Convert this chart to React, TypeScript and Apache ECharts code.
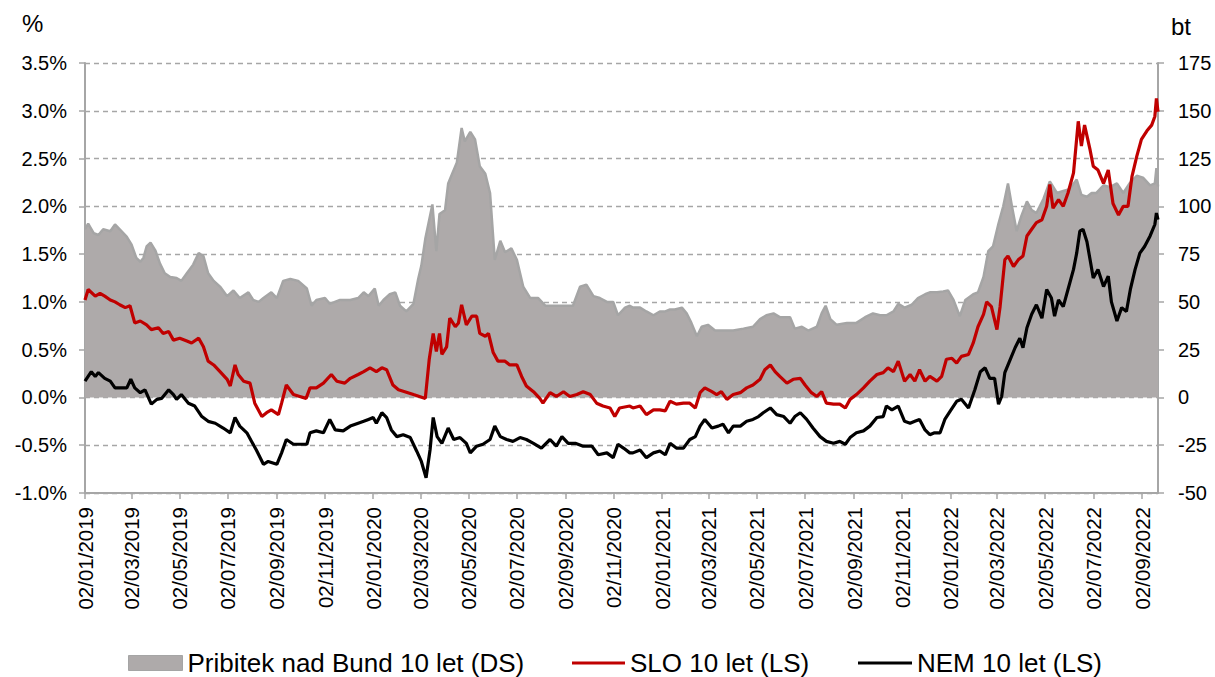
import { useEffect, useRef } from 'react';
import * as echarts from 'echarts';

const START_DATE = '2019-01-02';
const END_DATE = '2022-09-22';

const TICK_LABELS = [
  '02/01/2019', '02/03/2019', '02/05/2019', '02/07/2019', '02/09/2019', '02/11/2019',
  '02/01/2020', '02/03/2020', '02/05/2020', '02/07/2020', '02/09/2020', '02/11/2020',
  '02/01/2021', '02/03/2021', '02/05/2021', '02/07/2021', '02/09/2021', '02/11/2021',
  '02/01/2022', '02/03/2022', '02/05/2022', '02/07/2022', '02/09/2022',
];

const LEFT_TICKS = { min: -1, max: 3.5, interval: 0.5 };
const RIGHT_TICKS = { min: -50, max: 175, interval: 25 };

const NAME_SPREAD = 'Pribitek nad Bund 10 let (DS)';
const NAME_SLO = 'SLO 10 let (LS)';
const NAME_NEM = 'NEM 10 let (LS)';

// spread over Bund, basis points (right axis)
const SPREAD_BP: [string, number][] = [
  ['2019-01-02', 88], ['2019-01-06', 91], ['2019-01-13', 86], ['2019-01-19', 85], ['2019-01-25', 88],
  ['2019-02-03', 87], ['2019-02-09', 90.5], ['2019-02-15', 88], ['2019-02-24', 84], ['2019-03-02', 80],
  ['2019-03-08', 73], ['2019-03-13', 71], ['2019-03-17', 73], ['2019-03-21', 79], ['2019-03-26', 81],
  ['2019-04-01', 77], ['2019-04-07', 70], ['2019-04-13', 65], ['2019-04-20', 63], ['2019-04-28', 62.5],
  ['2019-05-04', 61], ['2019-05-11', 65], ['2019-05-19', 69.5], ['2019-05-26', 75.6], ['2019-06-01', 74],
  ['2019-06-07', 65], ['2019-06-14', 61], ['2019-06-22', 58], ['2019-07-01', 53], ['2019-07-09', 56],
  ['2019-07-17', 52], ['2019-07-28', 55], ['2019-08-03', 51], ['2019-08-10', 50], ['2019-08-16', 52],
  ['2019-08-26', 55], ['2019-09-02', 52], ['2019-09-10', 61], ['2019-09-19', 62], ['2019-09-29', 61],
  ['2019-10-10', 57], ['2019-10-16', 48], ['2019-10-22', 51], ['2019-11-02', 52], ['2019-11-08', 49],
  ['2019-11-21', 51], ['2019-12-04', 51], ['2019-12-14', 52], ['2019-12-21', 55], ['2019-12-27', 53],
  ['2020-01-04', 57], ['2020-01-09', 48], ['2020-01-15', 51], ['2020-01-23', 54], ['2020-01-30', 55],
  ['2020-02-05', 48], ['2020-02-13', 45], ['2020-02-22', 49], ['2020-02-28', 62], ['2020-03-03', 69],
  ['2020-03-08', 83], ['2020-03-12', 91], ['2020-03-17', 101], ['2020-03-22', 76.5], ['2020-03-26', 96],
  ['2020-04-02', 98], ['2020-04-06', 112], ['2020-04-10', 116], ['2020-04-17', 123], ['2020-04-23', 141],
  ['2020-04-27', 134], ['2020-05-04', 139], ['2020-05-10', 135], ['2020-05-16', 121], ['2020-05-23', 117],
  ['2020-05-29', 107], ['2020-06-04', 72], ['2020-06-11', 82], ['2020-06-17', 76], ['2020-06-25', 78],
  ['2020-07-02', 72], ['2020-07-10', 58], ['2020-07-19', 52], ['2020-07-29', 52], ['2020-08-07', 48],
  ['2020-08-17', 48], ['2020-08-30', 48], ['2020-09-11', 48], ['2020-09-20', 58], ['2020-09-28', 59],
  ['2020-10-07', 53], ['2020-10-15', 52], ['2020-10-24', 50], ['2020-11-01', 50], ['2020-11-07', 43],
  ['2020-11-16', 47], ['2020-11-22', 48], ['2020-11-26', 47], ['2020-12-05', 47], ['2020-12-13', 45],
  ['2020-12-22', 43], ['2020-12-30', 45], ['2021-01-06', 45], ['2021-01-12', 46], ['2021-01-18', 46],
  ['2021-01-27', 47], ['2021-02-02', 44], ['2021-02-08', 39], ['2021-02-15', 32], ['2021-02-21', 37],
  ['2021-03-01', 38], ['2021-03-10', 35], ['2021-03-20', 35], ['2021-04-02', 35], ['2021-04-15', 36],
  ['2021-04-27', 37], ['2021-05-06', 41], ['2021-05-14', 43], ['2021-05-23', 44], ['2021-05-31', 42],
  ['2021-06-13', 42], ['2021-06-19', 36], ['2021-06-28', 37], ['2021-07-06', 35], ['2021-07-17', 37],
  ['2021-07-23', 44], ['2021-07-28', 48], ['2021-08-03', 41], ['2021-08-11', 38], ['2021-08-24', 39],
  ['2021-09-05', 39], ['2021-09-16', 42], ['2021-09-26', 44], ['2021-10-05', 43], ['2021-10-13', 43],
  ['2021-10-22', 45], ['2021-10-28', 49], ['2021-11-05', 47], ['2021-11-14', 48.5], ['2021-11-22', 52],
  ['2021-12-01', 54], ['2021-12-07', 55], ['2021-12-16', 55], ['2021-12-24', 55.5], ['2021-12-30', 56],
  ['2022-01-06', 51], ['2022-01-14', 42.5], ['2022-01-21', 51], ['2022-01-31', 54], ['2022-02-06', 55],
  ['2022-02-13', 63], ['2022-02-19', 76.5], ['2022-02-25', 79], ['2022-03-04', 91], ['2022-03-10', 100],
  ['2022-03-16', 112], ['2022-03-21', 100], ['2022-03-27', 87], ['2022-04-02', 95], ['2022-04-09', 102.6],
  ['2022-04-15', 98], ['2022-04-21', 96.5], ['2022-04-30', 104], ['2022-05-08', 113], ['2022-05-17', 107],
  ['2022-05-25', 108], ['2022-06-02', 109], ['2022-06-11', 114], ['2022-06-17', 106], ['2022-06-24', 105],
  ['2022-06-30', 107], ['2022-07-06', 107], ['2022-07-15', 111], ['2022-07-23', 110], ['2022-08-01', 112],
  ['2022-08-09', 107], ['2022-08-17', 112], ['2022-08-26', 116], ['2022-09-03', 115], ['2022-09-12', 111],
  ['2022-09-18', 112], ['2022-09-20', 120], ['2022-09-22', 110.5],
];

// Slovenia 10y yield, % (left axis)
const SLO_10Y: [string, number][] = [
  ['2019-01-02', 1.02], ['2019-01-06', 1.13], ['2019-01-15', 1.06], ['2019-01-21', 1.09], ['2019-01-27', 1.06],
  ['2019-02-03', 1.02], ['2019-02-09', 1.0], ['2019-02-15', 0.97], ['2019-02-22', 0.94], ['2019-02-28', 0.96],
  ['2019-03-06', 0.78], ['2019-03-13', 0.8], ['2019-03-21', 0.76], ['2019-03-27', 0.71], ['2019-04-05', 0.73],
  ['2019-04-11', 0.67], ['2019-04-18', 0.69], ['2019-04-24', 0.6], ['2019-05-02', 0.62], ['2019-05-11', 0.59],
  ['2019-05-17', 0.57], ['2019-05-26', 0.62], ['2019-06-01', 0.53], ['2019-06-07', 0.38], ['2019-06-14', 0.34],
  ['2019-06-22', 0.27], ['2019-07-01', 0.19], ['2019-07-05', 0.12], ['2019-07-11', 0.34], ['2019-07-15', 0.24],
  ['2019-07-22', 0.17], ['2019-07-30', 0.15], ['2019-08-05', -0.06], ['2019-08-14', -0.2], ['2019-08-20', -0.16],
  ['2019-08-26', -0.13], ['2019-09-04', -0.18], ['2019-09-08', -0.06], ['2019-09-14', 0.13], ['2019-09-23', 0.03],
  ['2019-10-01', 0.01], ['2019-10-09', -0.01], ['2019-10-14', 0.1], ['2019-10-22', 0.1], ['2019-10-31', 0.15],
  ['2019-11-10', 0.24], ['2019-11-17', 0.17], ['2019-11-27', 0.15], ['2019-12-04', 0.2], ['2019-12-14', 0.24],
  ['2019-12-21', 0.27], ['2019-12-29', 0.31], ['2020-01-06', 0.27], ['2020-01-13', 0.31], ['2020-01-19', 0.29],
  ['2020-01-27', 0.13], ['2020-02-03', 0.08], ['2020-02-11', 0.06], ['2020-02-22', 0.03], ['2020-03-08', -0.01],
  ['2020-03-13', 0.4], ['2020-03-18', 0.67], ['2020-03-22', 0.48], ['2020-03-26', 0.67], ['2020-03-29', 0.45],
  ['2020-04-04', 0.53], ['2020-04-08', 0.83], ['2020-04-15', 0.74], ['2020-04-19', 0.78], ['2020-04-23', 0.97],
  ['2020-04-29', 0.76], ['2020-05-06', 0.85], ['2020-05-12', 0.85], ['2020-05-16', 0.67], ['2020-05-23', 0.64],
  ['2020-05-27', 0.67], ['2020-06-02', 0.47], ['2020-06-08', 0.38], ['2020-06-17', 0.38], ['2020-06-23', 0.34],
  ['2020-07-02', 0.34], ['2020-07-08', 0.22], ['2020-07-14', 0.12], ['2020-07-23', 0.06], ['2020-07-31', -0.01],
  ['2020-08-04', -0.06], ['2020-08-13', 0.05], ['2020-08-21', 0.01], ['2020-08-30', 0.06], ['2020-09-07', 0.01],
  ['2020-09-16', 0.03], ['2020-09-24', 0.06], ['2020-10-03', 0.03], ['2020-10-11', -0.06], ['2020-10-19', -0.09],
  ['2020-10-28', -0.11], ['2020-11-03', -0.2], ['2020-11-09', -0.11], ['2020-11-22', -0.09], ['2020-11-26', -0.11],
  ['2020-12-05', -0.09], ['2020-12-13', -0.18], ['2020-12-22', -0.13], ['2020-12-30', -0.13], ['2021-01-06', -0.14],
  ['2021-01-12', -0.04], ['2021-01-20', -0.07], ['2021-01-29', -0.06], ['2021-02-06', -0.06], ['2021-02-13', -0.11],
  ['2021-02-19', 0.05], ['2021-02-25', 0.1], ['2021-03-06', 0.06], ['2021-03-12', 0.03], ['2021-03-18', 0.06],
  ['2021-03-25', -0.02], ['2021-04-02', 0.03], ['2021-04-11', 0.05], ['2021-04-19', 0.1], ['2021-04-27', 0.13],
  ['2021-05-06', 0.19], ['2021-05-12', 0.29], ['2021-05-19', 0.34], ['2021-05-25', 0.27], ['2021-05-31', 0.22],
  ['2021-06-09', 0.15], ['2021-06-17', 0.19], ['2021-06-26', 0.2], ['2021-07-02', 0.13], ['2021-07-10', 0.05],
  ['2021-07-17', 0.01], ['2021-07-23', 0.06], ['2021-07-29', -0.06], ['2021-08-07', -0.07], ['2021-08-15', -0.07],
  ['2021-08-22', -0.11], ['2021-08-28', -0.02], ['2021-09-05', 0.03], ['2021-09-14', 0.1], ['2021-09-22', 0.17],
  ['2021-10-01', 0.24], ['2021-10-09', 0.26], ['2021-10-15', 0.31], ['2021-10-22', 0.27], ['2021-10-28', 0.38],
  ['2021-11-05', 0.17], ['2021-11-12', 0.24], ['2021-11-18', 0.17], ['2021-11-24', 0.29], ['2021-12-01', 0.17],
  ['2021-12-07', 0.22], ['2021-12-16', 0.17], ['2021-12-22', 0.22], ['2021-12-28', 0.4], ['2022-01-04', 0.41],
  ['2022-01-10', 0.36], ['2022-01-16', 0.43], ['2022-01-25', 0.45], ['2022-01-31', 0.57], ['2022-02-06', 0.74],
  ['2022-02-13', 0.87], ['2022-02-17', 1.0], ['2022-02-23', 0.95], ['2022-03-02', 0.71], ['2022-03-06', 0.95],
  ['2022-03-12', 1.44], ['2022-03-16', 1.48], ['2022-03-23', 1.37], ['2022-03-29', 1.44], ['2022-04-04', 1.48],
  ['2022-04-09', 1.69], ['2022-04-15', 1.76], ['2022-04-21', 1.83], ['2022-04-28', 1.86], ['2022-05-04', 2.0],
  ['2022-05-08', 2.23], ['2022-05-12', 1.98], ['2022-05-19', 2.07], ['2022-05-25', 2.0], ['2022-05-31', 2.14],
  ['2022-06-07', 2.35], ['2022-06-13', 2.89], ['2022-06-17', 2.63], ['2022-06-21', 2.85], ['2022-06-28', 2.59],
  ['2022-07-02', 2.42], ['2022-07-08', 2.38], ['2022-07-15', 2.24], ['2022-07-21', 2.38], ['2022-07-27', 2.03],
  ['2022-08-03', 1.91], ['2022-08-09', 2.0], ['2022-08-15', 2.0], ['2022-08-20', 2.31], ['2022-08-26', 2.52],
  ['2022-09-01', 2.7], ['2022-09-08', 2.79], ['2022-09-14', 2.85], ['2022-09-18', 2.94], ['2022-09-20', 3.13],
  ['2022-09-22', 2.99],
];

// Germany 10y yield, % (left axis)
const NEM_10Y: [string, number][] = [
  ['2019-01-02', 0.17], ['2019-01-10', 0.27], ['2019-01-15', 0.22], ['2019-01-19', 0.26], ['2019-01-27', 0.2],
  ['2019-02-03', 0.17], ['2019-02-09', 0.1], ['2019-02-15', 0.1], ['2019-02-24', 0.1], ['2019-03-01', 0.19],
  ['2019-03-06', 0.1], ['2019-03-13', 0.05], ['2019-03-19', 0.08], ['2019-03-27', -0.07], ['2019-04-03', -0.02],
  ['2019-04-09', -0.01], ['2019-04-18', 0.08], ['2019-04-24', 0.03], ['2019-04-28', -0.02], ['2019-05-04', 0.03],
  ['2019-05-13', -0.06], ['2019-05-21', -0.09], ['2019-05-30', -0.2], ['2019-06-07', -0.25], ['2019-06-16', -0.27],
  ['2019-06-26', -0.32], ['2019-07-05', -0.37], ['2019-07-11', -0.21], ['2019-07-17', -0.3], ['2019-07-26', -0.37],
  ['2019-08-01', -0.46], ['2019-08-07', -0.55], ['2019-08-16', -0.7], ['2019-08-22', -0.67], ['2019-09-02', -0.7],
  ['2019-09-08', -0.58], ['2019-09-14', -0.44], ['2019-09-23', -0.49], ['2019-10-01', -0.49], ['2019-10-10', -0.49],
  ['2019-10-14', -0.37], ['2019-10-22', -0.35], ['2019-10-31', -0.37], ['2019-11-08', -0.23], ['2019-11-15', -0.34],
  ['2019-11-25', -0.35], ['2019-12-04', -0.3], ['2019-12-14', -0.27], ['2019-12-21', -0.25], ['2019-12-27', -0.23],
  ['2020-01-02', -0.21], ['2020-01-06', -0.27], ['2020-01-13', -0.16], ['2020-01-19', -0.21], ['2020-01-25', -0.34],
  ['2020-02-01', -0.41], ['2020-02-09', -0.39], ['2020-02-18', -0.42], ['2020-02-26', -0.56], ['2020-03-03', -0.67],
  ['2020-03-09', -0.84], ['2020-03-14', -0.55], ['2020-03-18', -0.21], ['2020-03-23', -0.41], ['2020-03-29', -0.48],
  ['2020-04-06', -0.32], ['2020-04-13', -0.44], ['2020-04-21', -0.42], ['2020-04-29', -0.48], ['2020-05-04', -0.58],
  ['2020-05-12', -0.51], ['2020-05-20', -0.49], ['2020-05-29', -0.44], ['2020-06-04', -0.3], ['2020-06-11', -0.41],
  ['2020-06-19', -0.44], ['2020-06-27', -0.46], ['2020-07-06', -0.42], ['2020-07-14', -0.44], ['2020-07-23', -0.48],
  ['2020-08-02', -0.53], ['2020-08-13', -0.44], ['2020-08-21', -0.51], ['2020-08-28', -0.41], ['2020-09-05', -0.48],
  ['2020-09-14', -0.48], ['2020-09-24', -0.51], ['2020-10-05', -0.51], ['2020-10-13', -0.6], ['2020-10-24', -0.58],
  ['2020-11-01', -0.63], ['2020-11-07', -0.49], ['2020-11-14', -0.53], ['2020-11-22', -0.58], ['2020-11-26', -0.58],
  ['2020-12-05', -0.55], ['2020-12-13', -0.63], ['2020-12-22', -0.58], ['2020-12-30', -0.56], ['2021-01-06', -0.6],
  ['2021-01-12', -0.48], ['2021-01-20', -0.53], ['2021-01-29', -0.53], ['2021-02-06', -0.44], ['2021-02-13', -0.41],
  ['2021-02-19', -0.3], ['2021-02-25', -0.23], ['2021-03-06', -0.32], ['2021-03-14', -0.3], ['2021-03-20', -0.28],
  ['2021-03-27', -0.37], ['2021-04-02', -0.3], ['2021-04-11', -0.3], ['2021-04-19', -0.25], ['2021-04-27', -0.23],
  ['2021-05-04', -0.2], ['2021-05-10', -0.16], ['2021-05-19', -0.11], ['2021-05-27', -0.18], ['2021-06-05', -0.2],
  ['2021-06-13', -0.27], ['2021-06-19', -0.2], ['2021-06-26', -0.16], ['2021-07-04', -0.23], ['2021-07-12', -0.32],
  ['2021-07-21', -0.41], ['2021-07-29', -0.46], ['2021-08-07', -0.48], ['2021-08-15', -0.46], ['2021-08-22', -0.49],
  ['2021-08-28', -0.42], ['2021-09-05', -0.37], ['2021-09-14', -0.35], ['2021-09-22', -0.3], ['2021-10-01', -0.21],
  ['2021-10-09', -0.2], ['2021-10-13', -0.09], ['2021-10-20', -0.13], ['2021-10-28', -0.09], ['2021-11-05', -0.25],
  ['2021-11-12', -0.27], ['2021-11-18', -0.25], ['2021-11-24', -0.23], ['2021-12-01', -0.34], ['2021-12-07', -0.39],
  ['2021-12-13', -0.37], ['2021-12-20', -0.37], ['2021-12-26', -0.23], ['2022-01-02', -0.14], ['2022-01-10', -0.04],
  ['2022-01-16', -0.02], ['2022-01-25', -0.11], ['2022-02-02', 0.08], ['2022-02-09', 0.27], ['2022-02-15', 0.31],
  ['2022-02-21', 0.2], ['2022-02-27', 0.2], ['2022-03-04', -0.07], ['2022-03-08', 0.01], ['2022-03-12', 0.26],
  ['2022-03-18', 0.38], ['2022-03-25', 0.52], ['2022-03-31', 0.62], ['2022-04-04', 0.52], ['2022-04-09', 0.73],
  ['2022-04-15', 0.87], ['2022-04-21', 0.97], ['2022-04-28', 0.83], ['2022-05-04', 1.13], ['2022-05-10', 1.04],
  ['2022-05-14', 0.85], ['2022-05-19', 1.02], ['2022-05-25', 0.95], ['2022-05-31', 1.13], ['2022-06-07', 1.34],
  ['2022-06-11', 1.51], ['2022-06-15', 1.74], ['2022-06-19', 1.76], ['2022-06-24', 1.63], ['2022-06-28', 1.44],
  ['2022-07-02', 1.25], ['2022-07-08', 1.34], ['2022-07-15', 1.16], ['2022-07-21', 1.27], ['2022-07-25', 1.0],
  ['2022-08-01', 0.8], ['2022-08-07', 0.94], ['2022-08-13', 0.9], ['2022-08-18', 1.13], ['2022-08-24', 1.34],
  ['2022-08-30', 1.51], ['2022-09-05', 1.58], ['2022-09-12', 1.69], ['2022-09-18', 1.81], ['2022-09-20', 1.93],
  ['2022-09-22', 1.86],
];

const FONT = '"Liberation Sans", Arial, Helvetica, sans-serif';
const GRID_COLOR = '#A6A6A6';

function pad(n: number) {
  return n < 10 ? '0' + n : String(n);
}

function buildDays(start: string, end: string): string[] {
  const out: string[] = [];
  const s = Date.UTC(+start.slice(0, 4), +start.slice(5, 7) - 1, +start.slice(8, 10));
  const e = Date.UTC(+end.slice(0, 4), +end.slice(5, 7) - 1, +end.slice(8, 10));
  for (let t = s; t <= e; t += 86400000) {
    const d = new Date(t);
    out.push(d.getUTCFullYear() + '-' + pad(d.getUTCMonth() + 1) + '-' + pad(d.getUTCDate()));
  }
  return out;
}

function isoToLabel(iso: string) {
  return iso.slice(8, 10) + '/' + iso.slice(5, 7) + '/' + iso.slice(0, 4);
}

export default function App() {
  const ref = useRef<HTMLDivElement>(null);

  useEffect(() => {
    if (!ref.current) return;
    const chart = echarts.init(ref.current, undefined, { renderer: 'svg' });
    const days = buildDays(START_DATE, END_DATE);
    const tickSet = new Set(TICK_LABELS);
    const showTick = (_i: number, v: string) => tickSet.has(isoToLabel(v));

    const legendBase = {
      orient: 'horizontal',
      top: 650,
      padding: 0,
      itemGap: 0,
      textStyle: { fontSize: 26, color: '#000', fontFamily: FONT },
      selectedMode: false,
    };

    chart.setOption({
      animation: false,
      backgroundColor: '#fff',
      textStyle: { fontFamily: FONT },
      grid: { left: 85, right: 57, top: 63, bottom: 184, containLabel: false, outerBoundsMode: 'none' },
      legend: [
        {
          ...legendBase,
          left: 128,
          data: [NAME_SPREAD],
          icon: 'rect',
          itemWidth: 54,
          itemHeight: 15,
          itemStyle: { color: '#AEAAAA', borderColor: '#A5A5A5', borderWidth: 1 },
        },
        {
          ...legendBase,
          left: 572,
          data: [NAME_SLO],
          icon: 'rect',
          itemWidth: 53,
          itemHeight: 3,
          itemStyle: { color: '#C00000', borderWidth: 0 },
        },
        {
          ...legendBase,
          left: 858,
          data: [NAME_NEM],
          icon: 'rect',
          itemWidth: 54,
          itemHeight: 3,
          itemStyle: { color: '#000000', borderWidth: 0 },
        },
      ],
      graphic: [
        {
          type: 'text',
          left: 22,
          top: 11,
          style: { text: '%', fontSize: 24, fill: '#000', fontFamily: FONT },
        },
        {
          type: 'text',
          left: 1171,
          top: 14,
          style: { text: 'bt', fontSize: 24, fill: '#000', fontFamily: FONT },
        },
      ],
      xAxis: {
        type: 'category',
        data: days,
        boundaryGap: false,
        axisLine: { onZero: false, lineStyle: { color: GRID_COLOR, width: 2 } },
        axisTick: { show: true, interval: showTick, length: 6, lineStyle: { color: GRID_COLOR, width: 1.5 } },
        axisLabel: {
          interval: showTick,
          rotate: 90,
          margin: 14,
          fontSize: 20.5,
          color: '#000',
          fontFamily: FONT,
          formatter: (v: string) => isoToLabel(v),
        },
        splitLine: { show: false },
      },
      yAxis: [
        {
          type: 'value',
          position: 'left',
          min: LEFT_TICKS.min,
          max: LEFT_TICKS.max,
          interval: LEFT_TICKS.interval,
          axisLine: { show: true, lineStyle: { color: GRID_COLOR, width: 2 } },
          axisTick: { show: true, length: 6, lineStyle: { color: GRID_COLOR, width: 1.5 } },
          axisLabel: {
            margin: 18,
            fontSize: 20,
            color: '#000',
            fontFamily: FONT,
            formatter: (v: number) => v.toFixed(1) + '%',
          },
          splitLine: { show: true, lineStyle: { color: GRID_COLOR, width: 1.3, type: [5, 4] } },
        },
        {
          type: 'value',
          position: 'right',
          min: RIGHT_TICKS.min,
          max: RIGHT_TICKS.max,
          interval: RIGHT_TICKS.interval,
          axisLine: { show: true, lineStyle: { color: GRID_COLOR, width: 2 } },
          axisTick: { show: true, length: 6, lineStyle: { color: GRID_COLOR, width: 1.5 } },
          axisLabel: { margin: 20, fontSize: 20, color: '#000', fontFamily: FONT },
          splitLine: { show: false },
        },
      ],
      series: [
        {
          name: NAME_SPREAD,
          type: 'line',
          yAxisIndex: 1,
          data: SPREAD_BP,
          symbol: 'none',
          showSymbol: false,
          color: '#AEAAAA',
          lineStyle: { color: '#A5A5A5', width: 2.5 },
          areaStyle: { color: '#AEAAAA', opacity: 1 },
          z: 1,
        },
        {
          name: NAME_SLO,
          type: 'line',
          yAxisIndex: 0,
          data: SLO_10Y,
          symbol: 'none',
          showSymbol: false,
          color: '#C00000',
          lineStyle: { color: '#C00000', width: 3.2 },
          z: 3,
        },
        {
          name: NAME_NEM,
          type: 'line',
          yAxisIndex: 0,
          data: NEM_10Y,
          symbol: 'none',
          showSymbol: false,
          color: '#000000',
          lineStyle: { color: '#000000', width: 3.2 },
          z: 4,
        },
      ],
    });

    return () => chart.dispose();
  }, []);

  return (
    <div
      ref={ref}
      style={{ position: 'fixed', left: 0, top: 0, width: 1215, height: 677, background: '#fff' }}
    />
  );
}
